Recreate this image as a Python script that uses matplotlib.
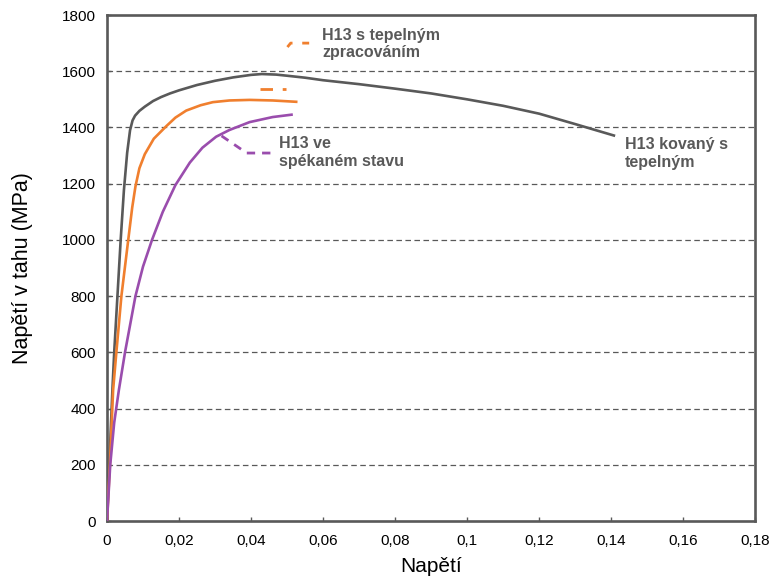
import matplotlib
matplotlib.use("Agg")
import matplotlib.pyplot as plt
from matplotlib.ticker import FuncFormatter

plt.rcParams['font.family'] = ['Liberation Sans', 'DejaVu Sans']
plt.rcParams['lines.scale_dashes'] = False

# --- data ---
forged_x = [0, 0.0008, 0.0015, 0.0020, 0.0029, 0.0038, 0.0047, 0.0056, 0.0064, 0.0071, 0.0078,
            0.0090, 0.0105, 0.0128, 0.0150, 0.0175, 0.0200, 0.0250, 0.0300, 0.0350, 0.0400,
            0.0430, 0.0470, 0.0500, 0.0550, 0.0600, 0.0700, 0.0800, 0.0900, 0.1000, 0.1100,
            0.1200, 0.1300, 0.1411]
forged_y = [0, 250, 466, 600, 800, 1000, 1177, 1310, 1390, 1425, 1442,
            1459, 1474, 1494, 1508, 1521, 1532, 1551, 1566, 1578, 1587,
            1590, 1588, 1584, 1577, 1568, 1554, 1538, 1521, 1500, 1477,
            1449, 1412, 1370]

heat_x = [0, 0.0008, 0.0017, 0.0026, 0.0040, 0.0059, 0.0070, 0.0079, 0.0090, 0.0105, 0.0130,
          0.0165, 0.0190, 0.0220, 0.0260, 0.0294, 0.0340, 0.0396, 0.0460, 0.0529]
heat_y = [0, 200, 466, 600, 800, 1000, 1115, 1190, 1255, 1305, 1360,
          1405, 1435, 1460, 1479, 1490, 1496, 1498, 1496, 1491]

sint_x = [0, 0.0009, 0.0020, 0.0033, 0.0050, 0.0079, 0.0100, 0.0125, 0.0155, 0.0190, 0.0230,
          0.0265, 0.0303, 0.0340, 0.0396, 0.0460, 0.0516]
sint_y = [0, 200, 350, 466, 600, 800, 905, 1000, 1100, 1195, 1275,
          1328, 1367, 1391, 1419, 1437, 1446]

x_ticks = [0, 0.02, 0.04, 0.06, 0.08, 0.10, 0.12, 0.14, 0.16, 0.18]
y_ticks = [0, 200, 400, 600, 800, 1000, 1200, 1400, 1600, 1800]

label_heat = "H13 s tepelným\nzpracováním"
label_sint = "H13 ve\nspékaném stavu"
label_forged = "H13 kovaný s\ntepelným"

GREY = '#595959'
ORANGE = '#F07F2E'
PURPLE = '#9A4DAD'

fig = plt.figure(figsize=(7.77, 5.77), dpi=100)
ax = fig.add_axes([0.1377, 0.097, 0.8343, 0.877])

ax.plot(forged_x, forged_y, color=GREY, lw=1.9, solid_capstyle='butt', solid_joinstyle='round', zorder=3)
ax.plot(heat_x, heat_y, color=ORANGE, lw=1.9, solid_capstyle='butt', solid_joinstyle='round', zorder=3)
ax.plot(sint_x, sint_y, color=PURPLE, lw=1.9, solid_capstyle='butt', solid_joinstyle='round', zorder=3)

# leader lines (dashed)
ax.plot([0.0426, 0.0496], [1537, 1537], color=ORANGE, lw=2, dashes=(9, 7), zorder=3)
ax.plot([0.0501, 0.0510, 0.0584], [1686, 1700, 1700], color=ORANGE, lw=2, dashes=(5, 7), zorder=3)
ax.plot([0.0318, 0.0388, 0.0457], [1370, 1309, 1309], color=PURPLE, lw=2, dashes=(6, 5), zorder=3)

ax.text(0.0597, 1697, label_heat, color=GREY, fontsize=11.5, fontweight='bold',
        va='center', ha='left', linespacing=1.2)
ax.text(0.0477, 1311, label_sint, color=GREY, fontsize=11.5, fontweight='bold',
        va='center', ha='left', linespacing=1.25)
ax.text(0.1437, 1308, label_forged, color=GREY, fontsize=11.5, fontweight='bold',
        va='center', ha='left', linespacing=1.25)

ax.set_xlim(0, 0.18)
ax.set_ylim(0, 1800)
ax.set_xticks(x_ticks)
ax.set_yticks(y_ticks)
ax.xaxis.set_major_formatter(FuncFormatter(lambda v, p: '0' if abs(v) < 1e-12 else ('%g' % round(v, 2)).replace('.', ',')))
ax.tick_params(axis='both', labelsize=11, length=3, width=1, color=GREY, direction='in')
ax.tick_params(axis='x', pad=9)
ax.tick_params(axis='y', pad=8)

for y in y_ticks[1:-1]:
    ax.axhline(y, color=GREY, lw=0.9, dashes=(4, 2.5), zorder=1)

for s in ax.spines.values():
    s.set_color(GREY)
    s.set_linewidth(1.9)

ax.set_ylabel('Napětí v tahu (MPa)', fontsize=15.5, labelpad=21)
ax.set_xlabel('Napětí', fontsize=15, labelpad=7)

fig.savefig('out.png', dpi=100)
